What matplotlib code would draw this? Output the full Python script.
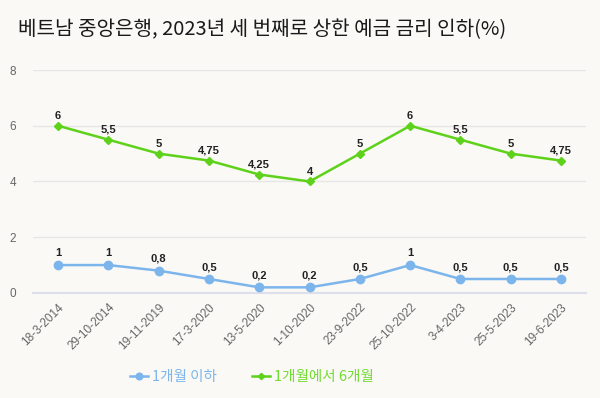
import matplotlib
matplotlib.use("Agg")
import matplotlib.pyplot as plt

plt.rcParams['font.family'] = ['Noto Sans CJK KR', 'DejaVu Sans']

dates = ['18-3-2014', '29-10-2014', '19-11-2019', '17-3-2020', '13-5-2020', '1-10-2020',
         '23-9-2022', '25-10-2022', '3-4-2023', '25-5-2023', '19-6-2023']
under_1m = [1, 1, 0.8, 0.5, 0.2, 0.2, 0.5, 1, 0.5, 0.5, 0.5]
m1_to_m6 = [6, 5.5, 5, 4.75, 4.25, 4, 5, 6, 5.5, 5, 4.75]
title = '베트남 중앙은행, 2023년 세 번째로 상한 예금 금리 인하(%)'
labels = ['1개월 이하', '1개월에서 6개월']

BG = '#faf9f6'
BLUE = '#7cb5ec'
GREEN = '#5ed21a'
LATIN = ['Liberation Sans', 'DejaVu Sans']


def fmt(v):
    return ('%g' % v).replace('.', ',')


fig = plt.figure(figsize=(6, 3.98), dpi=100, facecolor=BG)
ax = fig.add_axes([0.055, 0.264, 0.922, 0.56], facecolor=BG)

x = list(range(len(dates)))
ax.plot(x, under_1m, color=BLUE, lw=1.8, marker='o', ms=6, label=labels[0], zorder=3)
ax.plot(x, m1_to_m6, color=GREEN, lw=1.8, marker='D', ms=4, label=labels[1], zorder=3)

for xi, v in zip(x, under_1m):
    ax.annotate(fmt(v), (xi, v), xytext=(0, 5), textcoords='offset points',
                ha='center', va='bottom', fontsize=8, fontweight='bold',
                color='#222222', family=LATIN)
for xi, v in zip(x, m1_to_m6):
    ax.annotate(fmt(v), (xi, v), xytext=(0, 3.5), textcoords='offset points',
                ha='center', va='bottom', fontsize=8, fontweight='bold',
                color='#222222', family=LATIN)

ax.set_xlim(-0.5, len(dates) - 0.5)
ax.set_ylim(0, 8)
ax.set_yticks([0, 2, 4, 6, 8])
ax.grid(axis='y', color='#e6e6e6', lw=1)
ax.set_axisbelow(True)
for s in ['top', 'right', 'left']:
    ax.spines[s].set_visible(False)
ax.spines['bottom'].set_color('#dde0ea')
ax.spines['bottom'].set_linewidth(1.5)
ax.tick_params(axis='both', length=0, colors='#666666', labelsize=8.5)
ax.tick_params(axis='y', pad=12)
ax.tick_params(axis='x', pad=6)
ax.set_xticks(x)
ax.set_xticklabels(dates, rotation=45, ha='right', rotation_mode='anchor', family=LATIN)
for t in ax.get_yticklabels():
    t.set_family(LATIN)

fig.text(0.437, 0.925, title, ha='center', va='center', fontsize=14.5, color='#1a1a1a')

leg = fig.legend(loc='center', bbox_to_anchor=(0.42, 0.052), ncol=2, frameon=False,
                 fontsize=10.5, handlelength=1.2, columnspacing=2.4, handletextpad=0.3,
                 markerscale=0.8)
for t, c in zip(leg.get_texts(), [BLUE, '#72dc30']):
    t.set_color(c)

fig.savefig('out.png', dpi=100, facecolor=BG)
